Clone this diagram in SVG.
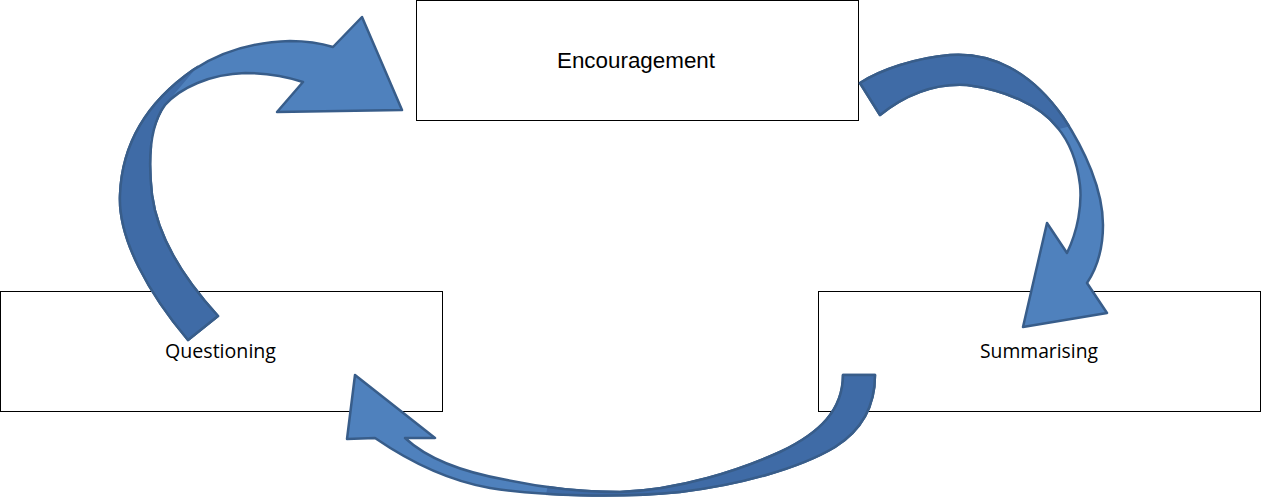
<svg xmlns="http://www.w3.org/2000/svg" width="1261" height="499" viewBox="0 0 1261 499">
<style>
.box{fill:#fff;stroke:#000;stroke-width:1}
.lbl1{font-family:"Liberation Sans",Arial,sans-serif;font-size:22px;fill:#000;text-anchor:middle}
.lbl2{font-family:"Open Sans","Noto Sans",sans-serif;font-size:20px;fill:#000;text-anchor:middle}
.arr{fill:#4f81bd;stroke:#385d8a;stroke-width:2.5;stroke-linejoin:round}
.dark{fill:#3f6ba6;stroke:#385d8a;stroke-width:2.5;stroke-linejoin:round}
</style>
<defs>
<path id="a1" d="M188,340 C150,295 118,240 120,195 C122,140 150,100 193,70 C220,52 250,42 290,41 C305,41 320,43 333,47 L362,17 L402,110 L277,112 L303,82 C285,76 265,73 245,73 C210,74 180,88 165,105 C150,125 148,160 152,195 C158,240 185,280 218,316 Z"/>
<path id="a2" d="M860,83 C880,70 915,58 950,55 C990,52 1030,70 1063,117 C1085,150 1103,190 1103,225 C1103,250 1097,268 1087,283 L1107,313 L1023,327 L1047,223 L1067,253 C1078,230 1082,205 1080,185 C1077,160 1068,140 1057,127 C1040,105 1005,90 967,85 C935,83 905,95 880,115 Z"/>
<path id="a3" d="M875,375 C875,405 862,430 835,447 C800,468 740,485 680,492 C620,498 540,496 490,488 C450,481 410,462 375,438 L347,439 L355,375 L435,438 L405,438 C420,452 450,470 507,480 C540,487 580,492 620,492 C680,490 740,470 780,452 C820,433 843,410 843,375 Z"/>
<clipPath id="c1"><polygon points="0,499 0,0 198,0 198,66 165,105 150,140 240,340 240,499"/></clipPath>
<clipPath id="c2"><polygon points="840,0 1090,0 1075,125 1055,130 840,140"/></clipPath>
<clipPath id="c3"><polygon points="575,360 900,360 900,499 545,499"/></clipPath>
</defs>
<g id="node-encouragement">
<rect class="box" x="416.5" y="0.5" width="442" height="120"/>
<text class="lbl1" x="636" y="68" textLength="158" lengthAdjust="spacingAndGlyphs">Encouragement</text>
</g>
<g id="node-questioning">
<rect class="box" x="0.5" y="291.5" width="442" height="120"/>
<text class="lbl2" x="220.5" y="358" textLength="111" lengthAdjust="spacingAndGlyphs">Questioning</text>
</g>
<g id="node-summarising">
<rect class="box" x="818.5" y="291.5" width="442" height="120"/>
<text class="lbl2" x="1039" y="358" textLength="118" lengthAdjust="spacingAndGlyphs">Summarising</text>
</g>
<g id="connectors">
<use href="#a1" class="arr"/>
<use href="#a1" class="dark" clip-path="url(#c1)"/>
<use href="#a2" class="arr"/>
<use href="#a2" class="dark" clip-path="url(#c2)"/>
<use href="#a3" class="arr"/>
<use href="#a3" class="dark" clip-path="url(#c3)"/>
</g>
</svg>
